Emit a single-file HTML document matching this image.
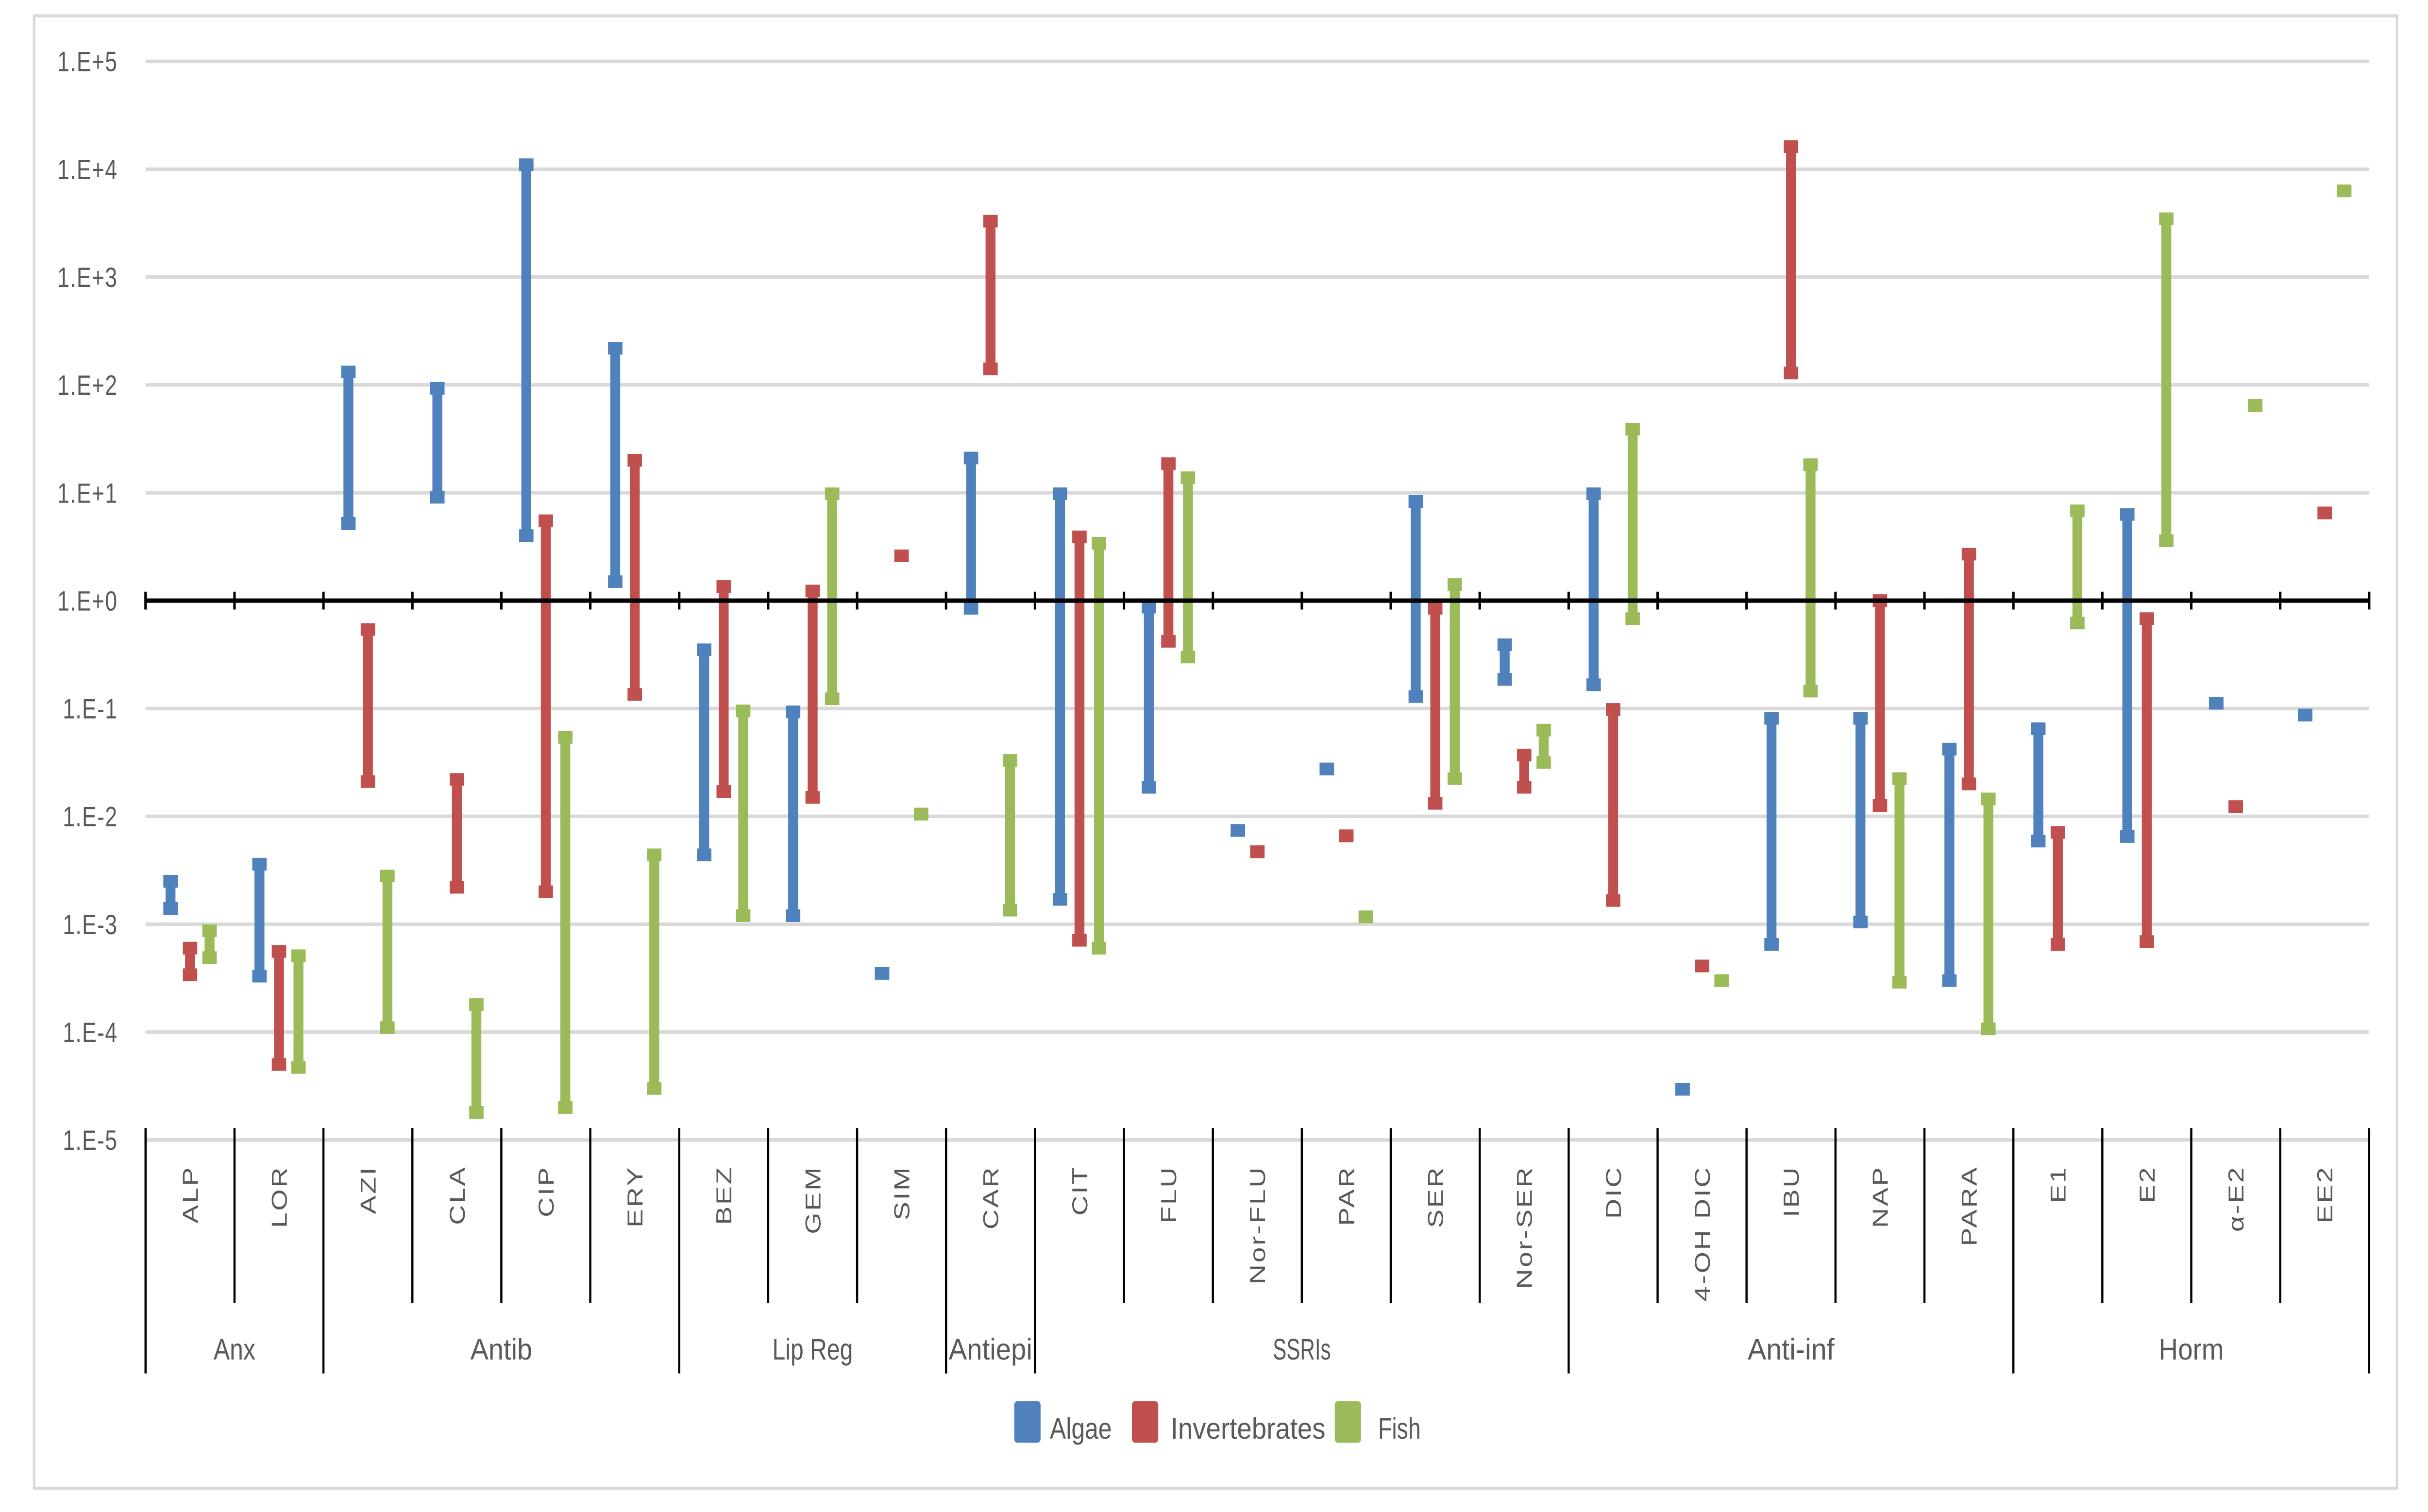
<!DOCTYPE html>
<html><head><meta charset="utf-8"><style>
html,body{margin:0;padding:0;background:#fff;overflow:hidden;width:100%;height:100%;}
svg{display:block;position:fixed;left:0;top:0;width:100vw;height:100vh;}
</style></head><body>
<svg id="chart" viewBox="0 0 1568 764" preserveAspectRatio="none" xmlns="http://www.w3.org/2000/svg">
<rect x="22" y="8" width="1526" height="744" fill="#fff" stroke="#d9d9d9" stroke-width="1.6"/>
<g id="grid"></g><g id="bars"></g><g id="axes"></g><g id="labels"></g>
<g font-family="'Liberation Sans Narrow','Liberation Sans',sans-serif" font-size="15" fill="#595959">
<rect x="655" y="708" width="17" height="21" rx="2" fill="#4f81bd"/>
<text x="678" y="727" textLength="40" lengthAdjust="spacingAndGlyphs">Algae</text>
<rect x="731" y="708" width="17" height="21" rx="2" fill="#c0504d"/>
<text x="756" y="727" textLength="100" lengthAdjust="spacingAndGlyphs">Invertebrates</text>
<rect x="862" y="708" width="17" height="21" rx="2" fill="#9bbb59"/>
<text x="890" y="727" textLength="27.5" lengthAdjust="spacingAndGlyphs">Fish</text>
</g>
</svg>
<script>
const categories = ["ALP","LOR","AZI","CLA","CIP","ERY","BEZ","GEM","SIM","CAR","CIT","FLU","Nor-FLU","PAR","SER","Nor-SER","DIC","4-OH DIC","IBU","NAP","PARA","E1","E2","α-E2","EE2"];
const groups = ["Anx","Antib","Lip Reg","Antiepi","SSRIs","Anti-inf","Horm"];
const groupSizes = [2,4,3,1,6,5,4];
const yTickExponents = [5,4,3,2,1,0,-1,-2,-3,-4,-5];
const yTickLabels = ["1.E+5","1.E+4","1.E+3","1.E+2","1.E+1","1.E+0","1.E-1","1.E-2","1.E-3","1.E-4","1.E-5"];
const algaeMax = [2.5e-3,3.6e-3,132,93,11000,219,0.35,0.093,3.5e-4,21,9.8,0.87,7.4e-3,0.0275,8.3,0.39,9.8,2.95e-5,0.081,0.081,0.042,0.065,6.3,0.112,0.087];
const algaeMin = [1.4e-3,3.3e-4,5.2,9.1,4.0,1.5,4.4e-3,1.2e-3,3.5e-4,0.85,1.7e-3,0.0186,7.4e-3,0.0275,0.129,0.186,0.166,2.95e-5,6.5e-4,1.05e-3,3.0e-4,5.9e-3,6.5e-3,0.112,0.087];
const invMax = [6.0e-4,5.6e-4,0.54,0.022,5.5,20,1.35,1.23,2.6,3300,3.9,18.6,4.7e-3,6.6e-3,0.85,0.037,0.098,4.1e-4,16200,1.0,2.7,7.1e-3,0.68,0.0123,6.5];
const invMin = [3.4e-4,5.0e-5,0.021,2.2e-3,2.0e-3,0.135,0.017,0.015,2.6,141,7.1e-4,0.42,4.7e-3,6.6e-3,0.0132,0.0186,1.66e-3,4.1e-4,129,0.0126,0.020,6.5e-4,6.9e-4,0.0123,6.5];
const fishMax = [8.7e-4,5.1e-4,2.8e-3,1.8e-4,0.054,4.4e-3,0.095,9.8,0.0105,0.033,3.4,13.8,null,1.17e-3,1.41,0.063,38.9,3.0e-4,18.2,0.0224,0.0145,6.8,3470,64.6,6300];
const fishMin = [4.9e-4,4.7e-5,1.1e-4,1.8e-5,2.0e-5,3.0e-5,1.2e-3,0.123,0.0105,1.35e-3,6.0e-4,0.30,null,1.17e-3,0.0224,0.0316,0.68,3.0e-4,0.145,2.9e-4,1.07e-4,0.62,3.6,64.6,6300];

const NS="http://www.w3.org/2000/svg";
const X0=94, X1=1530, Y0=303.5, DEC=54.5;
const catW=(X1-X0)/categories.length;
function xCat(i){return X0+(i+0.5)*catW;}
function xEdge(i){return X0+i*catW;}
function yVal(v){return Y0-Math.log10(v)*DEC;}
function yExp(e){return Y0-e*DEC;}
function mk(tag,attrs,parent){const el=document.createElementNS(NS,tag);for(const k in attrs)el.setAttribute(k,attrs[k]);parent.appendChild(el);return el;}

const grid=document.getElementById('grid'),bars=document.getElementById('bars'),axes=document.getElementById('axes'),labels=document.getElementById('labels');

yTickExponents.forEach((e,i)=>{
  if(e!==0){
    const g=mk('line',{x1:X0,x2:X1,y1:yExp(e),y2:yExp(e),stroke:'#d9d9d9','stroke-width':1.8},grid);
    
    
  }
  const t=mk('text',{x:76,y:yExp(e)+5,'text-anchor':'end','font-family':"'Liberation Sans',sans-serif",'font-size':14,'letter-spacing':0.4,fill:'#595959'},labels);
  t.textContent=yTickLabels[i];
  
  
});

const series=[{name:'algae',max:algaeMax,min:algaeMin,color:'#4f81bd',off:-12.6},
              {name:'invertebrates',max:invMax,min:invMin,color:'#c0504d',off:0},
              {name:'fish',max:fishMax,min:fishMin,color:'#9bbb59',off:12.6}];
series.forEach(s=>{
  categories.forEach((c,i)=>{
    if(s.max[i]==null)return;
    const cx=xCat(i)+s.off, yt=yVal(s.max[i]), yb=yVal(s.min[i]);
    const g=mk('g',{fill:s.color},bars);
    
    
    if(yb-yt>0.5) mk('rect',{x:cx-3.2,y:yt,width:6.4,height:yb-yt},g);
    mk('rect',{x:cx-4.65,y:yt-3.2,width:9.3,height:6.4},g);
    mk('rect',{x:cx-4.65,y:yb-3.2,width:9.3,height:6.4},g);
  });
});

const ax=mk('line',{x1:X0,x2:X1,y1:Y0,y2:Y0,stroke:'#000','stroke-width':2.2},axes);


for(let i=0;i<=categories.length;i++){
  const t=mk('line',{x1:xEdge(i),x2:xEdge(i),y1:Y0-4.5,y2:Y0+4.5,stroke:'#000','stroke-width':1.6},axes);
  
  
}
const groupEdges=[0];groupSizes.forEach(n=>groupEdges.push(groupEdges[groupEdges.length-1]+n));
for(let i=0;i<=categories.length;i++){
  const isG=groupEdges.includes(i);
  const l=mk('line',{x1:xEdge(i),x2:xEdge(i),y1:570,y2:isG?694:658.5,stroke:'#000','stroke-width':1.4},axes);
  
  
}
categories.forEach((c,i)=>{
  const x=xCat(i)+5,y=589;
  const t=mk('text',{x:x,y:y,transform:'rotate(-90 '+x+' '+y+')','text-anchor':'end','font-family':"'Liberation Sans',sans-serif",'font-size':14,'letter-spacing':0.9,fill:'#595959'},labels);
  t.textContent=c;
  
  
});
const gW=[27,40,52,54,37.5,56,42];
groups.forEach((g,i)=>{
  const cx=(xEdge(groupEdges[i])+xEdge(groupEdges[i+1]))/2;
  const t=mk('text',{x:cx-gW[i]/2,y:687,'font-family':"'Liberation Sans Narrow','Liberation Sans',sans-serif",'font-size':15,fill:'#595959',textLength:gW[i],lengthAdjust:'spacingAndGlyphs'},labels);
  t.textContent=g;
  
  
});
</script>
</body></html>
